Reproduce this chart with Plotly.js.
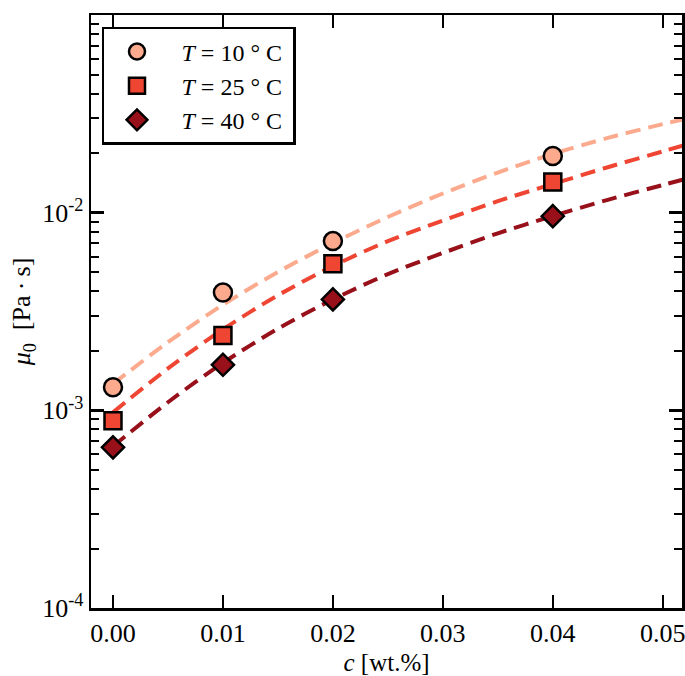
<!DOCTYPE html>
<html>
<head>
<meta charset="utf-8">
<script src="https://cdn.plot.ly/plotly-3.0.1.min.js"></script>
<style>html,body{margin:0;padding:0;background:#fff;}#chart{width:685px;height:676px;}</style>
</head>
<body>
<div id="chart"></div>
<script>
// Measured data points
var conc = [0.00, 0.01, 0.02, 0.04];
var mu10 = [1.31e-3, 3.95e-3, 7.18e-3, 1.935e-2];
var mu25 = [8.87e-4, 2.39e-3, 5.51e-3, 1.43e-2];
var mu40 = [6.5e-4, 1.70e-3, 3.64e-3, 9.6e-3];

// Fit curves
var fitC = [0.000, 0.005, 0.010, 0.015, 0.020, 0.025, 0.030, 0.035, 0.040, 0.045, 0.050, 0.052];
var fit10 = [1.361e-3, 2.213e-3, 3.420e-3, 5.012e-3, 7.015e-3, 9.51e-3, 1.250e-2, 1.596e-2, 1.982e-2, 2.388e-2, 2.805e-2, 2.979e-2];
var fit25 = [9.77e-4, 1.629e-3, 2.570e-3, 3.819e-3, 5.370e-3, 7.178e-3, 9.12e-3, 1.143e-2, 1.396e-2, 1.698e-2, 2.042e-2, 2.198e-2];
var fit40 = [6.577e-4, 1.099e-3, 1.738e-3, 2.588e-3, 3.639e-3, 4.887e-3, 6.252e-3, 7.862e-3, 9.616e-3, 1.161e-2, 1.380e-2, 1.479e-2];

var seriesNames = ['&nbsp;&nbsp;<i>T</i> = 10 ° C&nbsp;', '&nbsp;&nbsp;<i>T</i> = 25 ° C&nbsp;', '&nbsp;&nbsp;<i>T</i> = 40 ° C&nbsp;'];
var xTickVals = [0, 0.01, 0.02, 0.03, 0.04, 0.05];
var xTickText = ['0.00', '0.01', '0.02', '0.03', '0.04', '0.05'];
var yTickVals = [1e-4, 1e-3, 1e-2, 1e-1];
var yTickText = ['10<sup>-4</sup>', '10<sup>-3</sup>', '10<sup>-2</sup>', '10<sup>-1</sup>'];

var colors = ['#fcaa8e', '#ef4533', '#98101a'];
var symbols = ['circle', 'square', 'diamond'];
var sizes = [18, 17, 17];
var fits = [fit10, fit25, fit40];
var mus = [mu10, mu25, mu40];

var serif = '"Liberation Serif", "DejaVu Serif", serif';
var traces = [];
for (var i = 0; i < 3; i++) {
  traces.push({
    x: fitC, y: fits[i], type: 'scatter', mode: 'lines',
    line: {color: colors[i], width: 4, dash: '15px,8px', shape: 'spline', smoothing: 0.8},
    showlegend: false, hoverinfo: 'skip'
  });
}
for (var j = 0; j < 3; j++) {
  traces.push({
    x: conc, y: mus[j], type: 'scatter', mode: 'markers', name: seriesNames[j],
    legendgroup: 'g' + j,
    marker: {symbol: symbols[j], size: sizes[j], color: colors[j], line: {color: '#000', width: 2.5}},
    cliponaxis: false
  });
}

var layout = {
  width: 685, height: 676,
  margin: {l: 91, r: 3, t: 15, b: 68},
  paper_bgcolor: '#fff', plot_bgcolor: '#fff',
  font: {family: serif, color: '#000', size: 24},
  showlegend: true,
  legend: {
    x: 0.0186, y: 0.98, xanchor: 'left', yanchor: 'top',
    bgcolor: '#fff', bordercolor: '#000', borderwidth: 2.5,
    font: {family: serif, size: 24, color: '#000'},
    itemwidth: 55, tracegroupgap: 0, traceorder: 'normal'
  },
  xaxis: {
    range: [-0.0020, 0.05175],
    tickvals: xTickVals, ticktext: xTickText,
    ticks: 'inside', ticklen: 13, tickwidth: 2.5, tickcolor: '#000',
    ticklabeloverflow: 'allow',
    showline: true, linewidth: 2.5, linecolor: '#000', mirror: 'ticks',
    showgrid: false, zeroline: false,
    tickfont: {family: serif, size: 26, color: '#000'},
    title: {text: '<i>c</i> [wt.%]', font: {family: serif, size: 25, color: '#000'}, standoff: 8}
  },
  yaxis: {
    type: 'log', range: [-4, -1],
    tickvals: yTickVals, ticktext: yTickText,
    ticks: 'inside', ticklen: 13, tickwidth: 2.5, tickcolor: '#000',
    minor: {ticks: 'inside', ticklen: 8, tickwidth: 2, tickcolor: '#000', dtick: 'D1', showgrid: false},
    showline: true, linewidth: 2.5, linecolor: '#000', mirror: 'ticks',
    showgrid: false, zeroline: false,
    tickfont: {family: serif, size: 26, color: '#000'},
    title: {text: '<i>μ</i><sub>0</sub>\u2002[Pa\u2009·\u2009s]', font: {family: serif, size: 26, color: '#000'}, standoff: 4}
  }
};

Plotly.newPlot('chart', traces, layout, {displayModeBar: false, staticPlot: true});
</script>
</body>
</html>
